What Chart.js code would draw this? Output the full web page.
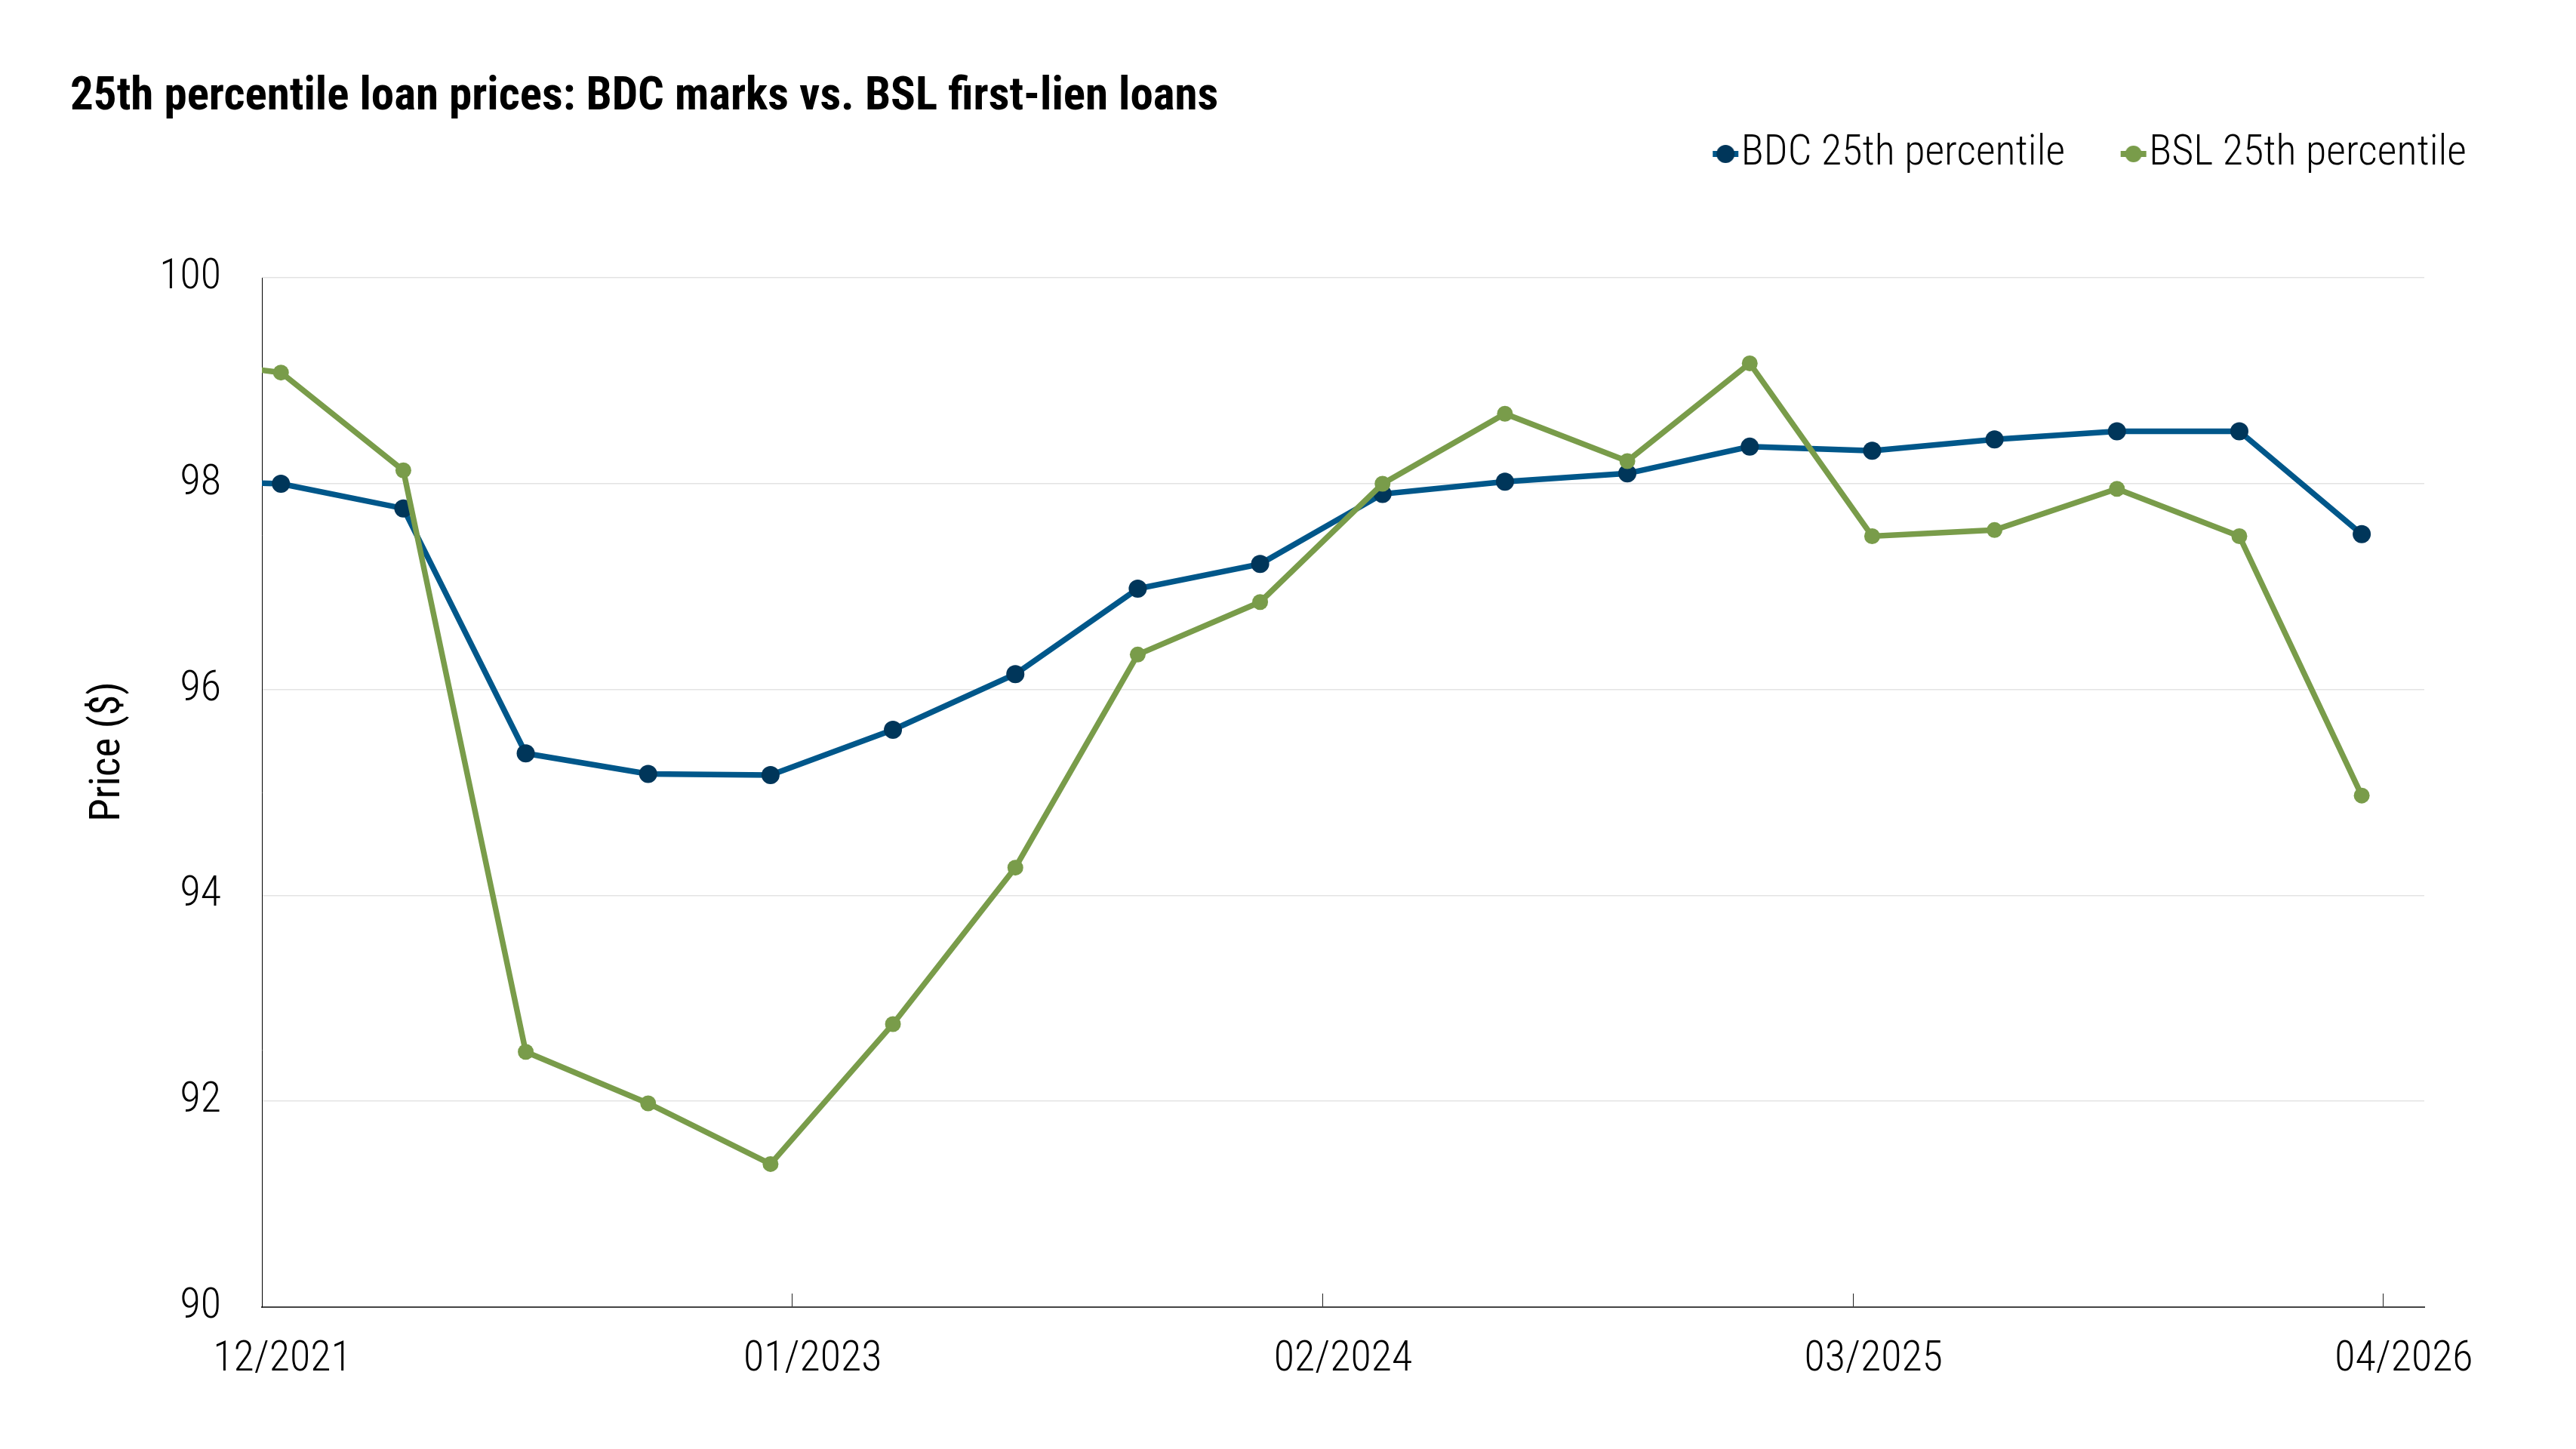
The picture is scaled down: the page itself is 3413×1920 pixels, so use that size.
<!DOCTYPE html>
<html>
<head>
<meta charset="utf-8">
<title>25th percentile loan prices</title>
<script src="https://cdn.jsdelivr.net/npm/chart.js@4.4.1/dist/chart.umd.min.js"></script>
<style>
  html, body { margin: 0; padding: 0; background: #fff; }
  #grafico { display: block; width: 3413px; height: 1920px; }
</style>
</head>
<body>
<canvas id="grafico" width="3413" height="1920"></canvas>
<script>
// quarter marks (mid-month); the first one sits just left of the axis and is clipped
var datas = ['2021-09-15', '2021-12-15', '2022-03-15', '2022-06-15', '2022-09-15', '2022-12-15',
    '2023-03-15', '2023-06-15', '2023-09-15', '2023-12-15', '2024-03-15', '2024-06-15',
    '2024-09-15', '2024-12-15', '2025-03-15', '2025-06-15', '2025-09-15', '2025-12-15', '2026-03-15']
var bdc25 = [98.03, 98.0, 97.76, 95.38, 95.18, 95.17, 95.61, 96.15, 96.98, 97.22, 97.9, 98.02,
    98.1, 98.36, 98.32, 98.43, 98.51, 98.51, 97.51]
var bsl25 = [99.23, 99.08, 98.13, 92.48, 91.98, 91.39, 92.75, 94.27, 96.34, 96.85, 98.0, 98.68,
    98.22, 99.17, 97.49, 97.55, 97.95, 97.49, 94.97]
var rotulosX = ['12/2021', '01/2023', '02/2024', '03/2025', '04/2026']
var rotulosY = [90, 92, 94, 96, 98, 100]

var FONTE = "'Roboto Condensed', 'Liberation Sans Narrow', 'DejaVu Sans Condensed', Roboto, sans-serif"
var AZUL = '#00578A'
var AZUL_PONTO = '#00365A'
var VERDE = '#799C4A'

// months counted from 12/2021
function mesData(s) {
    var p = s.split('-')
    return (+p[0] - 2021) * 12 + (+p[1] - 12) + (+p[2] - 1) / 30
}
function mesRotulo(s) {
    var p = s.split('/')
    return (+p[1] - 2021) * 12 + (+p[0] - 12)
}
var mesesTicks = rotulosX.map(mesRotulo)

function pontos(valores) {
    return valores.map(function (v, i) { return { x: mesData(datas[i]), y: v } })
}

// legend mark: short line with a dot, drawn a bit to the right so it sits next to the text
function marcaLegenda(corLinha, corPonto, raio) {
    var c = document.createElement('canvas')
    c.width = 52
    c.height = 30
    var g = c.getContext('2d')
    var cx = 34
    g.strokeStyle = corLinha
    g.lineWidth = 8
    g.beginPath()
    g.moveTo(cx - 17, 15)
    g.lineTo(cx + 17, 15)
    g.stroke()
    g.fillStyle = corPonto
    g.beginPath()
    g.arc(cx, 15, raio, 0, Math.PI * 2)
    g.fill()
    return c
}
var marcas = [marcaLegenda(AZUL, AZUL_PONTO, 12), marcaLegenda(VERDE, VERDE, 11)]

// legend sits to the right of the plot and level with the top, so move it after layout
var LEGENDA_DIREITA = 3268
var LEGENDA_MEIO = 204
var posicaoLegenda = {
    id: 'posicaoLegenda',
    afterLayout: function (chart) {
        var lg = chart.legend
        var pad = lg.options.labels.padding
        var dx = LEGENDA_DIREITA + pad - lg.right
        var dy = LEGENDA_MEIO - (pad + lg.options.labels.font.size / 2) - lg.top
        lg.left += dx
        lg.right += dx
        lg.top += dy
        lg.bottom += dy
    }
}

// y axis title, a little above the middle of the axis like the original
var tituloEixoY = {
    id: 'tituloEixoY',
    afterDraw: function (chart) {
        var c = chart.ctx
        c.save()
        c.translate(144, 996)
        c.rotate(-Math.PI / 2)
        c.font = '400 55px ' + FONTE
        c.fillStyle = '#000'
        c.textAlign = 'center'
        c.textBaseline = 'middle'
        c.fillText('Price ($)', 0, 0)
        c.restore()
    }
}

Chart.defaults.font.family = FONTE
Chart.defaults.color = '#000'

var ctx = document.getElementById('grafico').getContext('2d')
var grafico = new Chart(ctx, {
    type: 'line',
    data: {
        datasets: [{
            label: 'BDC 25th percentile',
            data: pontos(bdc25),
            borderColor: AZUL,
            backgroundColor: AZUL_PONTO,
            borderWidth: 7.5,
            pointRadius: 12,
            pointHoverRadius: 12,
            pointBorderWidth: 0,
            pointBackgroundColor: AZUL_PONTO,
            tension: 0,
            order: 1
        }, {
            label: 'BSL 25th percentile',
            data: pontos(bsl25),
            borderColor: VERDE,
            backgroundColor: VERDE,
            borderWidth: 7.5,
            pointRadius: 10.5,
            pointHoverRadius: 10.5,
            pointBorderWidth: 0,
            pointBackgroundColor: VERDE,
            tension: 0,
            order: 0
        }]
    },
    options: {
        responsive: false,
        maintainAspectRatio: false,
        animation: false,
        layout: {
            autoPadding: false,
            padding: { top: 0, left: 93, right: 201, bottom: 0 }
        },
        plugins: {
            title: {
                display: true,
                text: '25th percentile loan prices: BDC marks vs. BSL first-lien loans',
                align: 'start',
                color: '#000',
                font: { size: 61, weight: 'bold' },
                padding: { top: 92.7, bottom: 54.3 }
            },
            legend: {
                display: true,
                position: 'top',
                align: 'end',
                labels: {
                    usePointStyle: true,
                    pointStyleWidth: 1,
                    padding: 82,
                    color: '#000',
                    font: { size: 56, weight: '300' },
                    sort: function (a, b) { return a.datasetIndex - b.datasetIndex },
                    generateLabels: function (chart) {
                        var itens = Chart.defaults.plugins.legend.labels.generateLabels(chart)
                        itens.forEach(function (it) { it.pointStyle = marcas[it.datasetIndex] })
                        return itens
                    }
                }
            },
            tooltip: { enabled: false }
        },
        scales: {
            x: {
                type: 'linear',
                min: 0,
                max: 53,
                afterBuildTicks: function (s) {
                    s.ticks = mesesTicks.map(function (v) { return { value: v } })
                },
                afterFit: function (s) { s.height = 188 },
                ticks: {
                    autoSkip: false,
                    maxRotation: 0,
                    minRotation: 0,
                    padding: 54.4,
                    labelOffset: 27,
                    color: '#000',
                    font: { size: 56, weight: '300' },
                    callback: function (v) {
                        var i = mesesTicks.indexOf(v)
                        return i >= 0 ? rotulosX[i] : ''
                    }
                },
                grid: {
                    display: true,
                    drawOnChartArea: false,
                    drawTicks: true,
                    tickLength: -18,
                    color: '#222',
                    tickWidth: 1
                },
                border: { display: true, color: '#444', width: 2 }
            },
            y: {
                min: 90,
                max: 100,
                afterBuildTicks: function (s) {
                    s.ticks = rotulosY.map(function (v) { return { value: v } })
                },
                afterFit: function (s) { s.width = 254 },
                ticks: {
                    padding: 54,
                    color: '#000',
                    font: { size: 56, weight: '300' }
                },
                grid: {
                    color: '#e3e3e3',
                    lineWidth: 1.5,
                    drawTicks: false
                },
                border: { display: true, color: '#000', width: 1 },
                title: { display: false }
            }
        }
    },
    plugins: [posicaoLegenda, tituloEixoY]
})
</script>
</body>
</html>
